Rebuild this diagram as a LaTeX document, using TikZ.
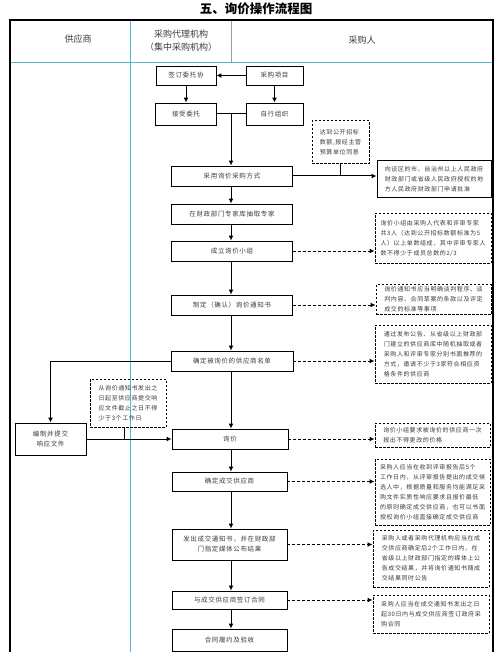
\documentclass[tikz,border=0pt]{standalone}
\usepackage{fontspec}
\setmainfont{Liberation Serif}
\newfontfamily\cjk[LetterSpace=10]{Noto Sans CJK SC}
\newfontfamily\cjkhead{Noto Sans CJK SC}
\usetikzlibrary{arrows.meta}
\definecolor{lane}{RGB}{120,168,188}
\definecolor{txt}{RGB}{60,60,60}
\tikzset{
  box/.style={draw=black, line width=0.9pt, inner sep=0pt, align=center, text=txt,
    font=\cjk\fontsize{6.5}{10}\selectfont},
  note/.style={draw=black, line width=1pt, dash pattern=on 2.5pt off 1.5pt, inner sep=0pt,
    align=left, text=txt, font=\cjk\fontsize{6}{10}\selectfont},
  solidnote/.style={note, solid},
  flow/.style={-{Latex[length=5pt,width=5pt]}, line width=1pt},
  dflow/.style={flow, dash pattern=on 3pt off 2pt},
  link/.style={line width=1pt},
  head/.style={text=txt, font=\cjkhead\fontsize{9}{13}\selectfont, align=center}
}
\begin{document}
\begin{tikzpicture}[x=1pt,y=-1pt]
\useasboundingbox (0,0) rectangle (500,652);
\fill[white] (0,0) rectangle (500,652);
% title
\node[font=\cjkhead\bfseries\fontsize{12.5}{14}\selectfont, inner sep=0pt] (title) at (256,9) {五、询价操作流程图};
% frame
\draw[lane, line width=0.8pt] (10,62) -- (493,62);
\draw[lane, line width=0.8pt] (130,20) -- (130,660);
\draw[lane, line width=0.8pt] (231,20) -- (231,62);
\draw[black, line width=1.2pt] (10,660) -- (10,20) -- (493,20) -- (493,660);
% headers
\node[head] (h1) at (78,39) {供应商};
\node[head] (h2) at (181,41) {采购代理机构\\（集中采购机构）};
\node[head] (h3) at (362,40) {采购人};
\coordinate (fx) at (231,0);
% top boxes
\node[box, minimum width=60, minimum height=19] (p1) at (186,75.5) {签订委托协};
\node[box, minimum width=57, minimum height=19] (p2) at (274.5,75.5) {采购项目};
\node[box, minimum width=61, minimum height=22] (p3) at (186,114) {接受委托};
\node[box, minimum width=57, minimum height=22] (p4) at (274.5,114) {自行组织};
% main flow
\node[box, minimum width=121, minimum height=20] (b1) at (232,176) {采用询价采购方式};
\node[box, minimum width=121, minimum height=20] (b2) at (232,214) {在财政部门专家库抽取专家};
\node[box, minimum width=121, minimum height=20] (b3) at (232,251) {成立询价小组};
\node[box, minimum width=121, minimum height=20] (b4) at (232,305) {制定（确认）询价通知书};
\node[box, minimum width=122, minimum height=20] (b5) at (232,361) {确定被询价的供应商名单};
\node[box, minimum width=116, minimum height=20] (b6) at (230,439) {询价};
\node[box, minimum width=115, minimum height=19] (b7) at (229.5,481.5) {确定成交供应商};
\node[box, minimum width=115, minimum height=31] (b8) at (229.5,544.5) {发出成交通知书，并在财政部\\门指定媒体公布结果};
\node[box, minimum width=115, minimum height=18] (b9) at (229.5,600) {与成交供应商签订合同};
\node[box, minimum width=115, minimum height=22] (b10) at (229.5,640) {合同履约及验收};
\node[box, minimum width=71, minimum height=32] (s1) at (50.5,439) {编制并提交\\响应文件};
% notes
\node[note, minimum width=57, minimum height=43] (n1) at (340.5,142.5) {达到公开招标\\数额,报经主管\\预算单位同意};
\node[solidnote, minimum width=114, minimum height=37] (r1) at (434,179.5) {向设区的市、自治州以上人民政府\\财政部门或省级人民政府授权的地\\方人民政府财政部门申请批准};
\node[note, minimum width=116, minimum height=50] (n2) at (433,238) {询价小组由采购人代表和评审专家\\共3人（达到公开招标数额标准为5\\人）以上单数组成，其中评审专家人\\数不得少于成员总数的2/3};
\node[note, minimum width=115, minimum height=30] (n3) at (433.5,299.5) {询价通知书应当明确谈判程序、谈\\判内容、合同草案的条款以及评定\\成交的标准等事项};
\node[note, minimum width=116, minimum height=58] (n4) at (433,354) {通过发布公告、从省级以上财政部\\门建立的供应商库中随机抽取或者\\采购人和评审专家分别书面推荐的\\方式，邀请不少于3家符合相应资\\格条件的供应商};
\node[note, minimum width=76, minimum height=48] (n5) at (128,403) {从询价通知书发出之\\日起至供应商提交响\\应文件截止之日不得\\少于3个工作日};
\node[note, minimum width=115, minimum height=24] (n6) at (432.5,435) {询价小组要求被询价的供应商一次\\报出不得更改的价格};
\node[note, minimum width=115, minimum height=66] (n7) at (432.5,492) {采购人应当在收到评审报告后5个\\工作日内，从评审报告提出的成交候\\选人中，根据质量和服务均能满足采\\购文件实质性响应要求且报价最低\\的原则确定成交供应商，也可以书面\\授权询价小组直接确定成交供应商};
\node[note, minimum width=116, minimum height=57] (n8) at (431,558.5) {采购人或者采购代理机构应当在成\\交供应商确定后2个工作日内，在\\省级以上财政部门指定的媒体上公\\告成交结果，并将询价通知书随成\\交结果同时公告};
\node[note, minimum width=116, minimum height=38] (n9) at (431,614) {采购人应当在成交通知书发出之日\\起30日内与成交供应商签订政府采\\购合同};
% connectors top
\draw[flow] (p2) -- (p1);
\draw[flow] (p1) -- (p3);
\draw[flow] (p2) -- (p4);
\coordinate (j1) at (231,114);
\draw[link] (p3) -- (p4);
\draw[flow] (j1) -- (b1.north -| fx);
\draw[flow] (b1.east) -- (b1.east -| r1.west);
\coordinate (j2) at (n1.south |- b1.east);
\draw[link] (n1.south) -- (j2);
% main flow arrows
\draw[flow] (b1.south -| fx) -- (b2.north -| fx);
\draw[flow] (b2.south -| fx) -- (b3.north -| fx);
\draw[flow] (b3.south -| fx) -- (b4.north -| fx);
\draw[flow] (b4.south -| fx) -- (b5.north -| fx);
\draw[flow] (b5.south -| fx) -- (b6.north -| fx);
\draw[flow] (b6.south -| fx) -- (b7.north -| fx);
\draw[flow] (b7.south -| fx) -- (b8.north -| fx);
\draw[flow] (b8.south -| fx) -- (b9.north -| fx);
\draw[flow] (b9.south -| fx) -- (b10.north -| fx);
\coordinate (end) at (231,660);
\draw[link] (b10.south -| fx) -- (end);
% dashed arrows to notes
\draw[dflow] (b3.east) -- (b3.east -| n2.west);
\draw[dflow] (b4.east) -- (b4.east -| n3.west);
\draw[dflow] (b5.east) -- (b5.east -| n4.west);
\draw[dflow] (b6.east) -- (b6.east -| n6.west);
\draw[dflow] (b7.east) -- (b7.east -| n7.west);
\draw[dflow] (b8.east) -- (b8.east -| n8.west);
\draw[dflow] (b9.east) -- (b9.east -| n9.west);
% supplier branch
\draw[flow] (b5.west) -| (s1.north);
\draw[flow] (s1.east) -- (b6.west);
\coordinate (j3) at ([xshift=-4pt]n5.south |- s1.east);
\draw[link] ([xshift=-4pt]n5.south) -- (j3);
\end{tikzpicture}
\end{document}
